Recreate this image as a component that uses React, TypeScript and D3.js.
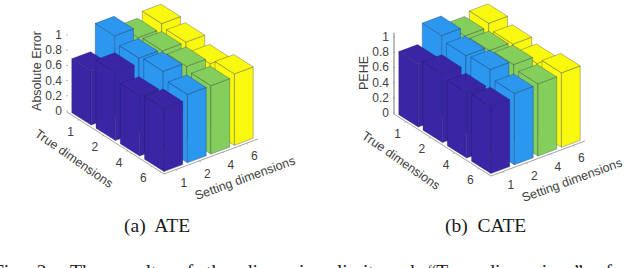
// Two 3-D bar charts (MATLAB bar3 look) drawn with d3 scales and a simple oblique projection
import React from "react"
import * as d3 from "d3"

const trueDims = ["1", "2", "4", "6"]
const settingDims = ["1", "2", "4", "6"]
const zTicks = [0, 0.2, 0.4, 0.6, 0.8, 1]
const barColors = ["#3a25a5", "#2b97ee", "#84cf5c", "#f9f90f"]

// one list per setting dimension, ordered by true dimension
const ateSetting1 = [0.71, 0.9, 0.79, 0.83]
const ateSetting2 = [1.06, 0.97, 1.0, 0.9]
const ateSetting3 = [0.92, 0.95, 0.95, 0.9]
const ateSetting4 = [0.99, 0.95, 0.87, 0.94]

const cateSetting1 = [0.83, 0.9, 0.86, 0.88]
const cateSetting2 = [1.09, 1.03, 1.05, 0.94]
const cateSetting3 = [0.97, 0.98, 1.0, 0.95]
const cateSetting4 = [1.02, 0.95, 0.9, 0.98]

const ateValues = [ateSetting1, ateSetting2, ateSetting3, ateSetting4]
const cateValues = [cateSetting1, cateSetting2, cateSetting3, cateSetting4]

const barWidth = 0.8
const textColor = "#404040"
const sans = "'Liberation Sans', Arial, sans-serif"
const serif = "'Liberation Serif', 'Times New Roman', serif"

type Pt = [number, number]

function Bars3D({ values, zLabel, ox, oy, zAxis }: { values: number[][]; zLabel: string; ox: number; oy: number; zAxis?: boolean }) {
  // u runs along setting dimensions, v along true dimensions, both in category units
  const uX = d3.scaleLinear().domain([0, 4]).range([0, 94])
  const uY = d3.scaleLinear().domain([0, 4]).range([0, -35])
  const vX = d3.scaleLinear().domain([0, 4]).range([0, 97])
  const vY = d3.scaleLinear().domain([0, 4]).range([0, 62])
  const zY = d3.scaleLinear().domain([0, 1]).range([0, 76])

  const project = (u: number, v: number, z: number): Pt => [
    ox + uX(u) + vX(v),
    oy + uY(u) + vY(v) - zY(z),
  ]
  const line = d3.line()
  const poly = (pts: Pt[]) => line(pts) + "Z"

  // painter's order, far corner first
  const order: { i: number; j: number }[] = []
  for (let i = settingDims.length - 1; i >= 0; i--) {
    for (let j = 0; j < trueDims.length; j++) order.push({ i, j })
  }
  const pad = (1 - barWidth) / 2

  return (
    <g>
      {/* floor edges */}
      <path d={line([project(0, 0, 0), project(0, 4, 0), project(4, 4, 0)]) as string} fill="none" stroke="#8a8a8a" strokeWidth={0.8} />
      {trueDims.map((d, j) => {
        const p = project(0, j + 0.5, 0)
        return (
          <g key={"t" + d}>
            <line x1={p[0]} y1={p[1]} x2={p[0] - 1.5} y2={p[1] + 1} stroke="#8a8a8a" strokeWidth={0.6} />
            <text x={p[0] - 8.5} y={p[1] + 16} fontSize={12} textAnchor="middle" fill={textColor} fontFamily={sans}>{d}</text>
          </g>
        )
      })}
      {settingDims.map((d, i) => {
        const p = project(i + 0.5, 4, 0)
        return (
          <g key={"s" + d}>
            <line x1={p[0]} y1={p[1]} x2={p[0] + 1.5} y2={p[1] + 1} stroke="#8a8a8a" strokeWidth={0.6} />
            <text x={p[0] + 8} y={p[1] + 17} fontSize={12} textAnchor="middle" fill={textColor} fontFamily={sans}>{d}</text>
          </g>
        )
      })}

      {/* z axis */}
      {zAxis && (
        <line x1={ox} y1={oy} x2={ox} y2={oy - zY(1.07)} stroke="#555" strokeWidth={0.8} />
      )}
      {zTicks.map(t => {
        const y = oy - 1 - zY(t)
        return (
          <g key={t}>
            <line x1={ox - 1} y1={y} x2={ox + 1} y2={y} stroke="#8a8a8a" strokeWidth={0.6} />
            <text x={ox - 5} y={y + 4} fontSize={12} textAnchor="end" fill={textColor} fontFamily={sans}>{t}</text>
          </g>
        )
      })}
      <text transform={`translate(${ox - 26},${oy - 41}) rotate(-90)`} fontSize={12.5} textAnchor="middle" fill={textColor} fontFamily={sans}>{zLabel}</text>

      {/* bars */}
      {order.map(({ i, j }) => {
        const z = values[i][j]
        const u0 = i + pad, u1 = i + 1 - pad, v0 = j + pad, v1 = j + 1 - pad
        const faces = [
          [project(u0, v0, 0), project(u0, v1, 0), project(u0, v1, z), project(u0, v0, z)],
          [project(u0, v1, 0), project(u1, v1, 0), project(u1, v1, z), project(u0, v1, z)],
          [project(u0, v0, z), project(u0, v1, z), project(u1, v1, z), project(u1, v0, z)],
        ] as Pt[][]
        return (
          <g key={`${i}-${j}`}>
            {faces.map((f, k) => (
              <path key={k} d={poly(f)} fill={barColors[i]} stroke="#1c1c50" strokeOpacity={0.6} strokeWidth={0.5} />
            ))}
          </g>
        )
      })}

      {/* slanted axis titles */}
      <text transform={`translate(${ox + 4.6},${oy + 50}) rotate(35)`} fontSize={12.5} textAnchor="middle" fill={textColor} fontFamily={sans}>True dimensions</text>
      <text transform={`translate(${ox + 179.4},${oy + 70}) rotate(-20)`} fontSize={12.5} textAnchor="middle" fill={textColor} fontFamily={sans}>Setting dimensions</text>
    </g>
  )
}

export default function App() {
  return (
    <svg width={640} height={268} style={{ position: "absolute", left: 0, top: 0, background: "#fff" }}>
      <Bars3D values={ateValues} zLabel="Absolute Error" ox={67} oy={112} />
      <Bars3D values={cateValues} zLabel="PEHE" ox={394} oy={114} zAxis />
      <text x={124} y={232} fontSize={19.5} fill="#1a1a1a" fontFamily={serif} xmlSpace="preserve">(a)  ATE</text>
      <text x={445} y={232} fontSize={19.5} fill="#1a1a1a" fontFamily={serif} xmlSpace="preserve">(b)  CATE</text>
      {/* last caption line is cut by the picture edge, only the tops of the letters show */}
      <text x={-7} y={278} fontSize={19.5} fill="#1a1a1a" fontFamily={serif} wordSpacing={8}>Fig. 2.</text>
      <text x={70} y={278} fontSize={19.5} fill="#1a1a1a" fontFamily={serif} wordSpacing={8}>The results of the dimension limit and “True dimensions” of</text>
    </svg>
  )
}
